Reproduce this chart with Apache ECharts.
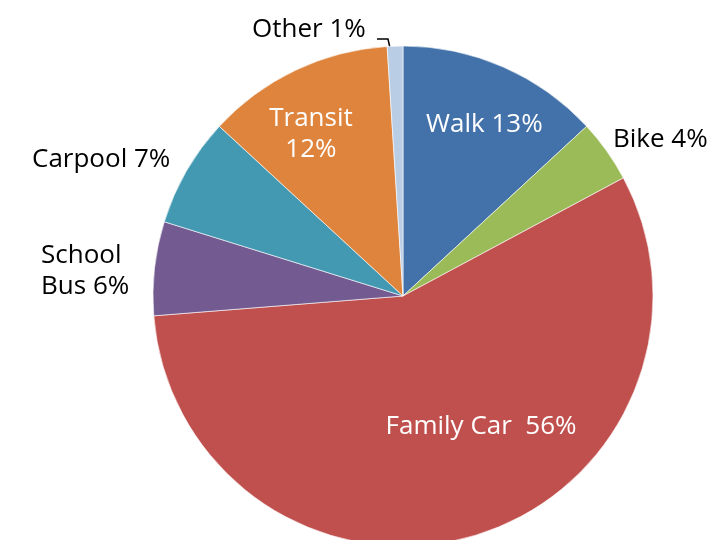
<!DOCTYPE html>
<html><head><meta charset="utf-8">
<script src="https://cdn.jsdelivr.net/npm/echarts@6/dist/echarts.min.js"></script>
<style>html,body{margin:0;padding:0;background:#fff}#c{width:712px;height:540px}</style>
</head><body><div id="c"></div>
<script>
const categories = ['Walk', 'Bike', 'Family Car', 'School Bus', 'Carpool', 'Transit', 'Other'];
const values = [13, 4, 56, 6, 7, 12, 1];
const labelTexts = ['Walk 13%', 'Bike 4%', 'Family Car  56%', 'School\nBus 6%', 'Carpool 7%', 'Transit\n12%', 'Other 1%'];
const colors = ['#4272A9', '#9BBB59', '#C0504D', '#735A91', '#4299B1', '#DE843C', '#B9CDE5'];

const insideSet = { 0: [30, -54], 2: [42, 8], 5: [-37, -46] };
const outsideAnchors = {
  1: { x: 613, y: 140, align: 'left' },
  3: { x: 41, y: 271, align: 'left' },
  4: { x: 32, y: 160, align: 'left' },
  6: { x: 252, y: 30, align: 'left', line: [[390, 48], [388, 39], [377, 39]] }
};

const data = categories.map((name, i) => {
  const inside = insideSet[i];
  return {
    name, value: values[i],
    itemStyle: { color: colors[i] },
    label: inside ? {
      position: 'inside', color: '#fff', offset: inside, align: 'center'
    } : { position: 'outside', color: '#000', align: 'left' },
    labelLine: { show: i === 6, lineStyle: { color: '#000', width: 1.5 } }
  };
});

const chart = echarts.init(document.getElementById('c'));
chart.setOption({
  animation: false,
  series: [{
    type: 'pie',
    center: [403, 296],
    radius: [0, 250],
    startAngle: 90,
    clockwise: true,
    avoidLabelOverlap: false,
    itemStyle: { borderColor: '#fff', borderWidth: 0.6 },
    label: {
      show: true,
      fontFamily: 'Open Sans',
      fontSize: 26,
      lineHeight: 31,
      formatter: p => labelTexts[p.dataIndex]
    },
    labelLayout: function (p) {
      const a = outsideAnchors[p.dataIndex];
      if (!a) return {};
      const r = { x: a.x, y: a.y, align: a.align, verticalAlign: 'middle' };
      if (a.line) r.labelLinePoints = a.line;
      return r;
    },
    data
  }]
});
</script></body></html>
